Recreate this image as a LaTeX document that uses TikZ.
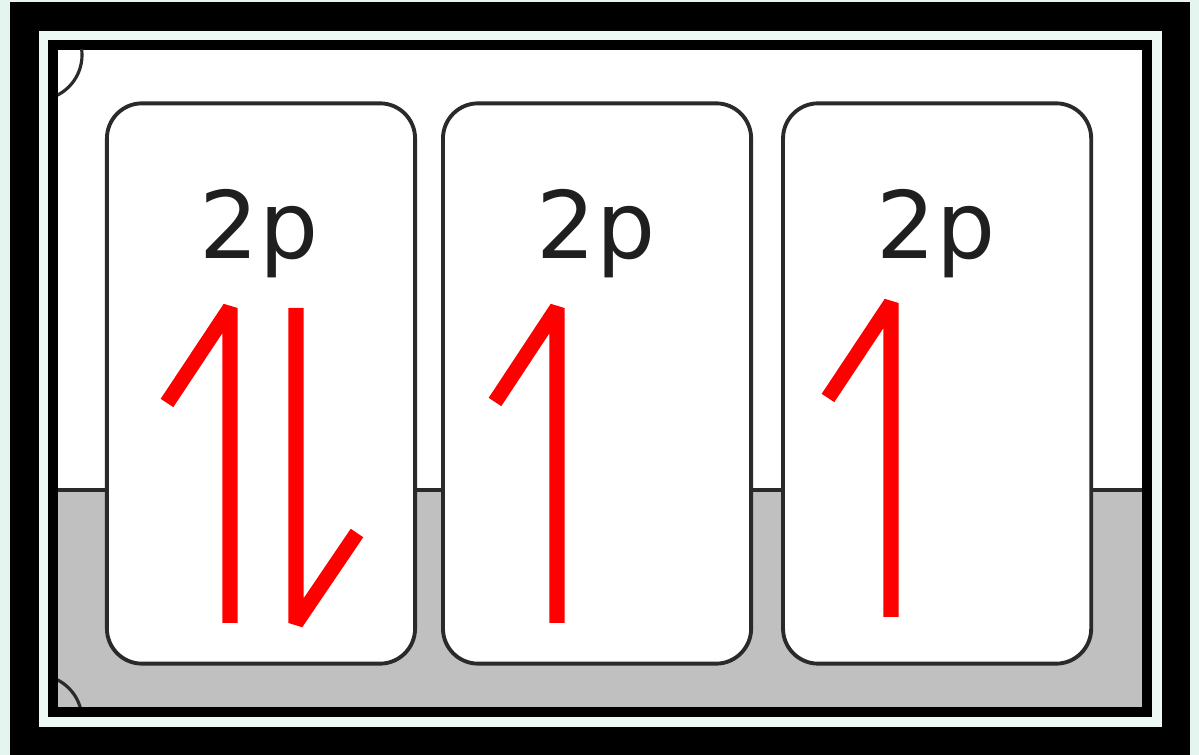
\documentclass[tikz,border=0pt]{standalone}
\usepackage{fontspec}
\setmainfont{DejaVu Sans}
\usetikzlibrary{positioning,calc}

\definecolor{mint}{HTML}{E4F4EE}
\definecolor{paleframe}{HTML}{EEF9F5}
\definecolor{shelf}{HTML}{C0C0C0}
\definecolor{edge}{HTML}{2A2A2A}

\tikzset{
  orbital/.style={draw=edge, line width=1.1pt, fill=white, rounded corners=10pt,
    minimum width=3.08cm, minimum height=5.6cm, inner sep=0pt},
  sublabel/.style={font=\fontsize{26.5}{28}\selectfont, text=black!88, anchor=base, inner sep=0pt},
  spin/.style={draw=red, line width=4.3pt, line join=bevel},
}

\begin{document}
\begin{tikzpicture}[x=0.01cm, y=-0.01cm]
        \useasboundingbox (0,0) rectangle (1199,755);

        % Frame
        \fill[mint] (0,0) rectangle (1199,755);
        \fill[black] (10,2) rectangle (1190,755);
        \fill[paleframe] (39,31) rectangle (1162,727);
        \fill[black] (48,40) rectangle (1152,717);
        \fill[white] (58,50) rectangle (1142,707);
        \fill[shelf] (58,490) rectangle (1142,707);
        \draw[edge, line width=1.4pt] (58,490) -- (1142,490);

        % Corner marks
        \begin{scope}
          \clip (58,50) rectangle (1142,707);
          \draw[edge, line width=0.9pt] (37,55) circle[radius=0.45cm];
          \draw[edge, line width=0.9pt] (37,720) circle[radius=0.45cm];
        \end{scope}

        % Orbitals
        \node[orbital] (o1) at (261,383.5) {};
        \node[orbital, right=0.24cm of o1] (o2) {};
        \node[orbital, right=0.28cm of o2] (o3) {};

        \node[sublabel] (t1) at ($(o1.north)+(-2,157)$) {2p};
        \node[sublabel] (t2) at ($(o2.north)+(-1,157)$) {2p};
        \node[sublabel] (t3) at ($(o3.north)+(-1,157)$) {2p};

        % Electrons
        \draw[spin] (230,623) -- (230,308) -- (167,403);
        \draw[spin] (296,308) -- (296,623) -- (357,533);
        \draw[spin] (557,623) -- (557,308) -- (495,402);
        \draw[spin] (891,617) -- (891,303) -- (828,398);
\end{tikzpicture}
\end{document}
